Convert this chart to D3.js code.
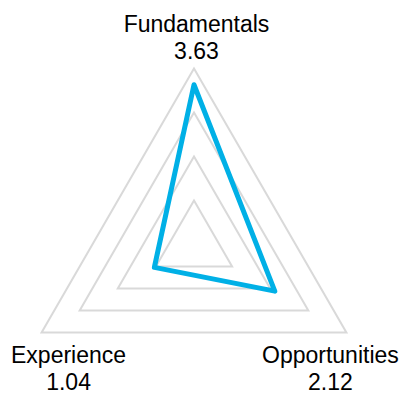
<!DOCTYPE html>
<html><head><meta charset="utf-8">
<script src="https://cdn.jsdelivr.net/npm/d3@7"></script>
<style>html,body{margin:0;padding:0;background:#fff;}svg{display:block;}</style>
</head><body>
<script>
const categories = ["Fundamentals", "Opportunities", "Experience"];
const values = [3.63, 2.12, 1.04];
const valueLabels = ["3.63", "2.12", "1.04"];
const gridLevels = [1, 2, 3, 4];

const W = 403, H = 394;
const cx = 194, cy = 244.5, R = 176;
const svg = d3.select("body").append("svg").attr("width", W).attr("height", H);

const r = d3.scaleLinear().domain([0, 4]).range([0, R]);
const angle = d3.scalePoint().domain(categories).range([0, 2 * Math.PI * (categories.length - 1) / categories.length]);
const pt = (cat, v) => {
  const a = angle(cat);
  return [cx + r(v) * Math.sin(a), cy - r(v) * Math.cos(a)];
};
const line = d3.line().curve(d3.curveLinearClosed);

svg.append("g").selectAll("path").data(gridLevels).join("path")
  .attr("d", lv => line(categories.map(c => pt(c, lv))))
  .attr("fill", "none").attr("stroke", "#d9d9d9").attr("stroke-width", 2);

svg.append("path")
  .attr("d", line(categories.map((c, i) => pt(c, values[i]))))
  .attr("fill", "none").attr("stroke", "#00b0e6").attr("stroke-width", 5)
  .attr("stroke-linejoin", "round");

const labelOffsets = { "Fundamentals": [2.5, -36.5], "Opportunities": [-16, 30], "Experience": [27, 30] };
const lg = svg.append("g").attr("font-family", "Liberation Sans, Arial, sans-serif")
  .attr("font-size", 23).attr("fill", "#000").attr("text-anchor", "middle");
categories.forEach((c, i) => {
  const [x, y] = pt(c, 4);
  const [dx, dy] = labelOffsets[c];
  const t = lg.append("text").attr("x", x + dx).attr("y", y + dy);
  t.append("tspan").attr("x", x + dx).text(c);
  t.append("tspan").attr("x", x + dx).attr("dy", 27).text(valueLabels[i]);
});
</script>
</body></html>
